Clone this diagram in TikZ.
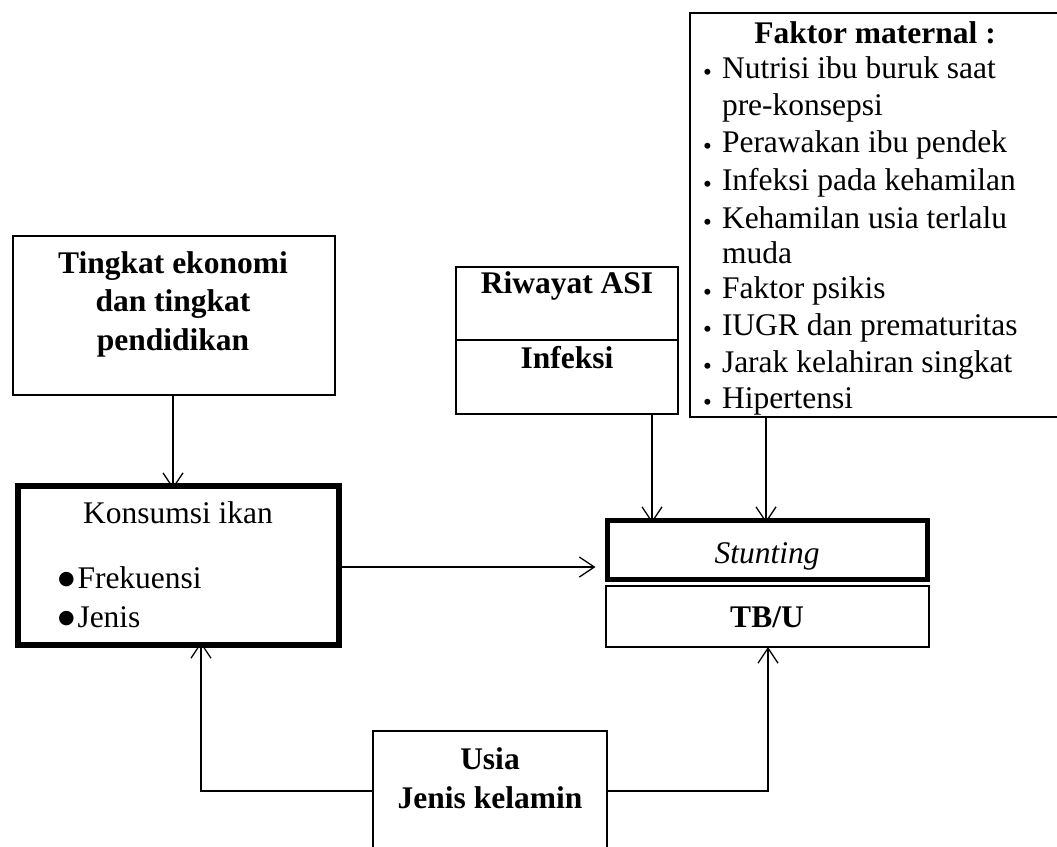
\documentclass[tikz,border=0pt]{standalone}
\usepackage{fontspec}
\setmainfont{Liberation Serif}
\newfontfamily\dejavu{DejaVu Sans}
\usetikzlibrary{arrows.meta}
\newcommand{\smallbul}{\makebox[19pt][l]{\smash{\raisebox{-2pt}{\fontsize{25}{25}\selectfont\textbullet}}}}
\newcommand{\bigbul}{\makebox[19.5pt][l]{\smash{\raisebox{4pt}{\dejavu\fontsize{19}{19}\selectfont ●}}}}
\tikzset{
  box/.style={draw, line width=2pt, inner sep=0pt, outer sep=0pt, anchor=north west},
  thickbox/.style={box, line width=5.5pt},
  lbl/.style={inner sep=0pt, outer sep=0pt, font=\fontsize{31.5}{37}\selectfont},
  arr/.style={line width=1.3pt, -{Straight Barb[length=15pt,width=20pt,line width=1.3pt]}},
}
\begin{document}
\begin{tikzpicture}[x=1pt,y=-1pt]
\useasboundingbox (0,0) rectangle (1057,846);
% boxes
\node[box, minimum width=322pt, minimum height=159pt] (tingkat) at (13,236) {};
\node[thickbox, minimum width=321pt, minimum height=159pt] (konsumsi) at (18,486) {};
\node[box, minimum width=222pt, minimum height=73pt] (riwayatA) at (456,267) {};
\node[box, minimum width=222pt, minimum height=74pt] (riwayatB) at (456,340) {};
\node[box, minimum width=370pt, minimum height=404pt] (faktor) at (690,13) {};
\node[thickbox, minimum width=320pt, minimum height=59pt] (stunting) at (607.5,520.5) {};
\node[box, minimum width=323pt, minimum height=61pt] (tbu) at (606,586) {};
\node[box, minimum width=234pt, minimum height=130pt] (usia) at (373,731) {};
% texts
\node[lbl, anchor=base] (t1) at (173,273) {\textbf{Tingkat ekonomi}};
\node[lbl, anchor=base] (t2) at (173,311) {\textbf{dan tingkat}};
\node[lbl, anchor=base] (t3) at (173,350) {\textbf{pendidikan}};
\node[lbl, anchor=base] (k1) at (178,523) {Konsumsi ikan};
\node[lbl, anchor=base west] (k2) at (58,588) {\bigbul Frekuensi};
\node[lbl, anchor=base west] (k3) at (58,627) {\bigbul Jenis};
\node[lbl, anchor=base] (r1) at (567,293) {\textbf{Riwayat ASI}};
\node[lbl, anchor=base] (r2) at (567,368) {\textbf{Infeksi}};
\node[lbl, anchor=base] (f0) at (875,43) {\textbf{Faktor maternal :}};
\node[lbl, anchor=base west] (f1) at (703,78) {\smallbul Nutrisi ibu buruk saat};
\node[lbl, anchor=base west] (f1b) at (722,115) {pre-konsepsi};
\node[lbl, anchor=base west] (f2) at (703,152) {\smallbul Perawakan ibu pendek};
\node[lbl, anchor=base west] (f3) at (703,190) {\smallbul Infeksi pada kehamilan};
\node[lbl, anchor=base west] (f4) at (703,228) {\smallbul Kehamilan usia terlalu};
\node[lbl, anchor=base west] (f4b) at (722,263) {muda};
\node[lbl, anchor=base west] (f5) at (703,298) {\smallbul Faktor psikis};
\node[lbl, anchor=base west] (f6) at (703,335) {\smallbul IUGR dan prematuritas};
\node[lbl, anchor=base west] (f7) at (703,372) {\smallbul Jarak kelahiran singkat};
\node[lbl, anchor=base west] (f8) at (703,408) {\smallbul Hipertensi};
\node[lbl, anchor=base] (s1) at (767,563) {\textit{Stunting}};
\node[lbl, anchor=base] (s2) at (767,627) {\textbf{TB/U}};
\node[lbl, anchor=base] (u1) at (490,769) {\textbf{Usia}};
\node[lbl, anchor=base] (u2) at (490,808) {\textbf{Jenis kelamin}};
% helper coordinates
\coordinate (xa) at (652,0);
\coordinate (xb) at (766,0);
\coordinate (xc) at (201,0);
\coordinate (xd) at (768,0);
\coordinate (xt) at (173,0);
\coordinate (ym) at (0,567);
\coordinate (yu) at (0,791);
% connectors
\draw[arr] (tingkat.south -| xt) -- ([yshift=-3pt]konsumsi.north -| xt);
\draw[arr] (riwayatB.south -| xa) -- ([yshift=-2.5pt]stunting.north -| xa);
\draw[arr] (faktor.south -| xb) -- ([yshift=-2.5pt]stunting.north -| xb);
\draw[arr, shorten >=12pt] (konsumsi.east |- ym) -- (stunting.west |- ym);
\draw[arr] (usia.west |- yu) -| ([yshift=3pt]konsumsi.south -| xc);
\draw[arr] (usia.east |- yu) -| (tbu.south -| xd);
\end{tikzpicture}
\end{document}
